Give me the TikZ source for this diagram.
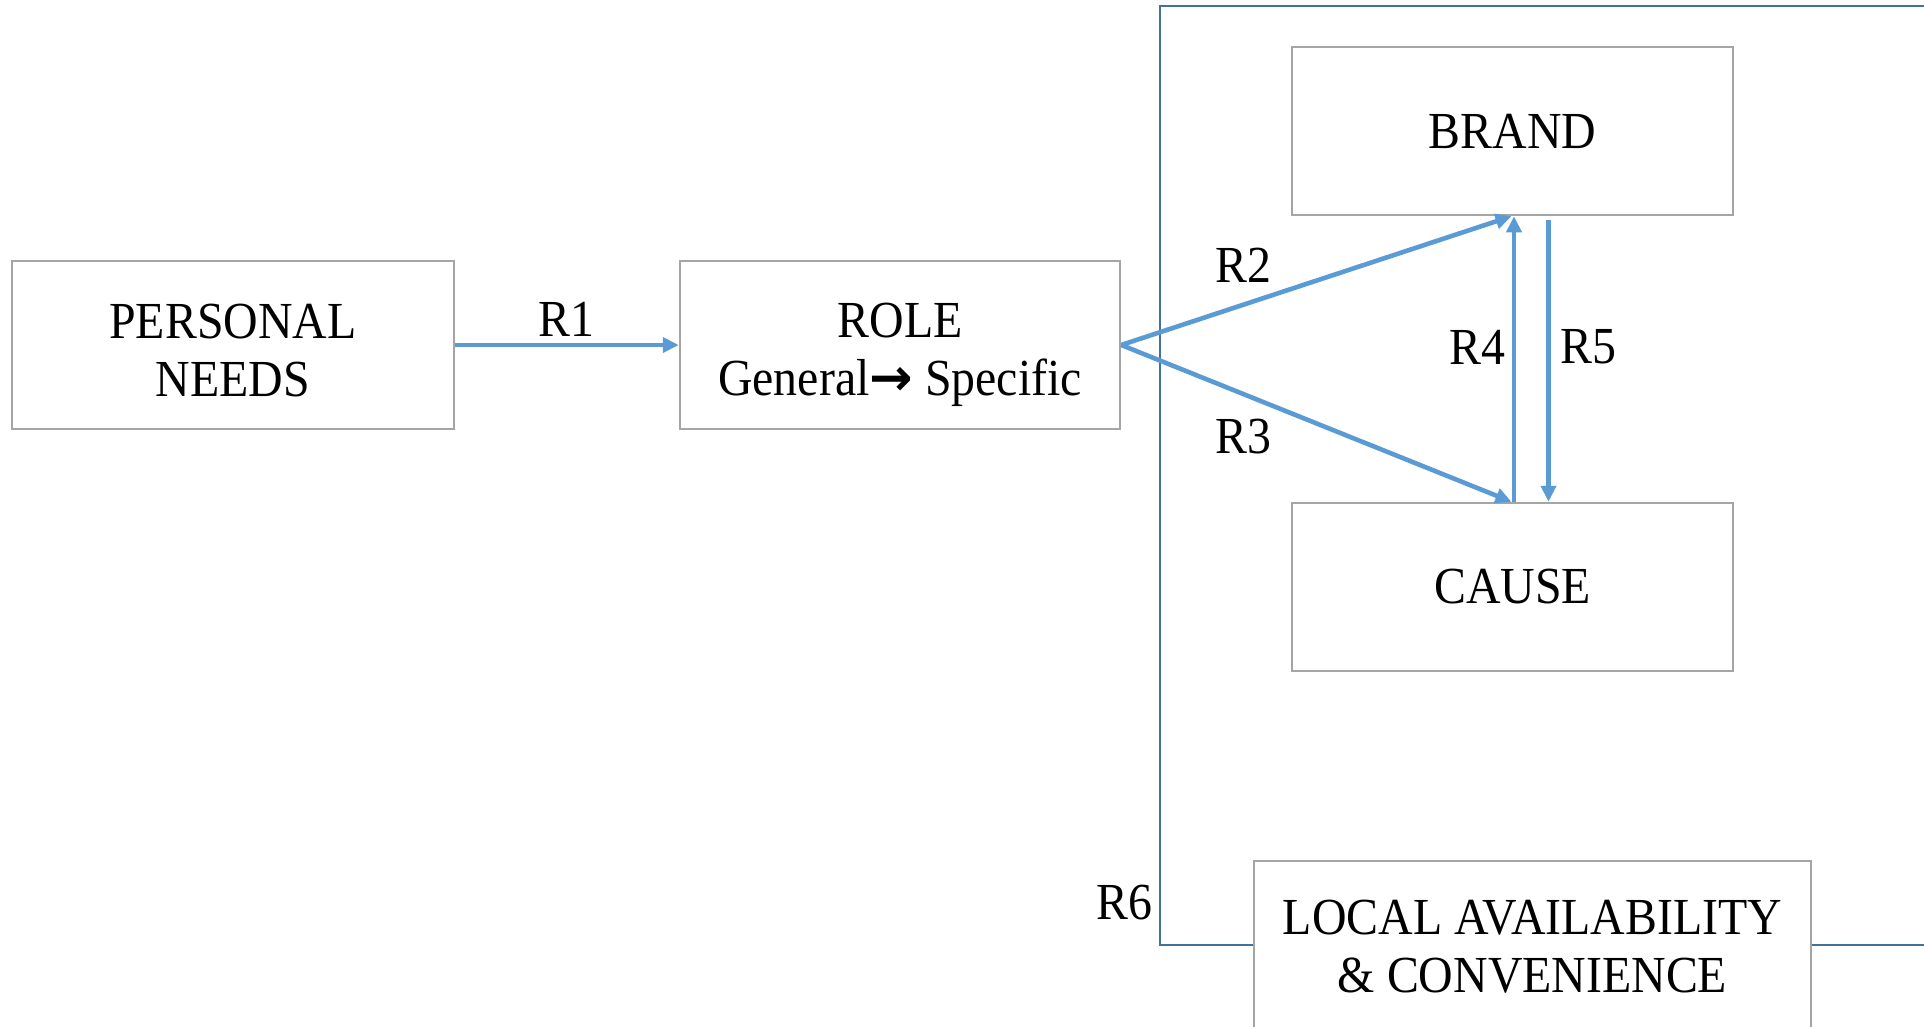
\documentclass[tikz,border=0pt]{standalone}
\usepackage{fontspec}
\setmainfont[FakeStretch=0.92]{Liberation Serif}
\newfontfamily\arrfont{DejaVu Sans}
\usetikzlibrary{arrows.meta}
\definecolor{arrblue}{RGB}{91,155,213}
\definecolor{frameblue}{RGB}{65,113,156}
\definecolor{boxgray}{RGB}{165,165,165}
\begin{document}
\begin{tikzpicture}[x=1pt,y=-1pt,
  every node/.style={font=\fontsize{52}{58}\selectfont},
  box/.style={draw=boxgray,line width=2.5pt,fill=white,align=center,inner sep=0pt},
  link/.style={draw=arrblue,line width=4.6pt,-{Triangle[length=16pt,width=15pt]}},
  lbl/.style={inner sep=0pt}]
\useasboundingbox (0,0) rectangle (1924,1026);
% outer frame
\draw[frameblue,line width=2.2pt] (1930,6) -- (1160,6) -- (1160,945) -- (1930,945);
% boxes
\node[box,minimum width=442pt,minimum height=168pt] (pn) at (233,345) {\rule{0pt}{45pt}PERSONAL\\NEEDS};
\node[box,minimum width=440pt,minimum height=168pt] (role) at (900,345) {\rule{0pt}{55pt}ROLE\\General{\arrfont\bfseries →} Specific};
\node[box,minimum width=441pt,minimum height=168pt] (brand) at (1512.5,131) {BRAND};
\node[box,minimum width=441pt,minimum height=168pt] (cause) at (1512.5,587) {CAUSE};
\node[box,minimum width=557pt,minimum height=172pt] (local) at (1532.5,947) {LOCAL AVAILABILITY\\\& CONVENIENCE};
% connectors
\draw[link] (pn.east) -- (role.west);
\draw[link] (role.east) -- ([xshift=-1pt]brand.south);
\draw[link] (role.east) -- ([xshift=-1pt]cause.north);
\draw[link] ([xshift=1.5pt]cause.north) -- ([xshift=1.5pt]brand.south);
\draw[link] ([xshift=36pt,yshift=-4pt]brand.south) -- ([xshift=36pt]cause.north);
% labels
\node[lbl] (l1) at (566,319) {R1};
\node[lbl] (l2) at (1243,265) {R2};
\node[lbl] (l3) at (1243,437) {R3};
\node[lbl] (l4) at (1477,347) {R4};
\node[lbl] (l5) at (1588,347) {R5};
\node[lbl] (l6) at (1124,903) {R6};
\end{tikzpicture}
\end{document}
